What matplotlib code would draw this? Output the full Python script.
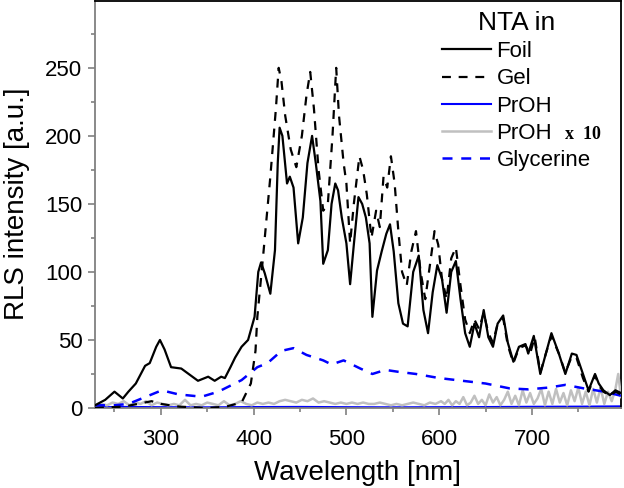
import matplotlib
matplotlib.use("Agg")
import matplotlib.pyplot as plt
from matplotlib.ticker import MultipleLocator

# ---------------- data ----------------
foil_x = [229, 240, 250, 259, 265, 273, 283, 288, 295, 299, 304, 311, 322, 330, 340, 351, 358, 365, 369,
          375, 380, 387, 394, 401, 405, 408, 412, 418, 423, 426, 428, 431, 436, 439, 443, 448, 453, 458,
          463, 467, 472, 475, 480, 484, 488, 491, 495, 500, 504, 508, 513, 517, 521, 525, 528, 533, 538,
          543, 547, 551, 556, 561, 566, 572, 578, 583, 588, 593, 598, 603, 608, 613, 618, 623, 628, 633,
          638, 643, 648, 653, 658, 663, 669, 674, 680, 686, 693, 696, 702, 709, 715, 721, 729, 736, 743,
          748, 755, 761, 768, 772, 777, 784, 790, 796]
foil_y = [2, 6, 12, 7, 12, 18, 31, 33, 45, 50, 43, 30, 29, 25, 20, 23, 20, 23, 22,
          30, 37, 45, 50, 67, 100, 107, 99, 84, 116, 180, 206, 200, 165, 170, 162, 121, 140, 180,
          200, 180, 152, 106, 116, 150, 165, 160, 140, 121, 91, 120, 155, 150, 140, 121, 67, 101, 115,
          128, 135, 115, 77, 62, 60, 100, 112, 72, 55, 85, 105, 95, 70, 100, 108, 80, 55, 45,
          62, 52, 72, 52, 45, 62, 68, 48, 34, 45, 47, 40, 53, 25, 40, 55, 40, 25, 40,
          39, 25, 13, 25, 18, 13, 9.5, 13, 11]

gel_x = [229, 260, 275, 290, 300, 320, 350, 370, 387, 397, 402, 404, 410, 418, 424, 427, 430, 434, 440,
         446, 452, 457, 461, 465, 470, 475, 480, 485, 489, 492, 497, 500, 504, 508, 514, 518, 522, 527,
         532, 536, 540, 544, 548, 552, 556, 560, 565, 570, 575, 580, 585, 590, 595, 599, 603, 608, 613,
         618, 623, 628, 633, 638, 643, 648, 653, 658, 663, 669, 674, 680, 686, 693, 698, 703, 709, 715,
         721, 729, 736, 743, 748, 755, 761, 768, 772, 777, 784, 790, 796]
gel_y = [0, 1, 3, 5, 3, 1, 0, 1, 4, 18, 42, 67, 110, 170, 220, 250, 240, 215, 190,
         177, 200, 230, 247, 220, 175, 145, 150, 200, 250, 215, 180, 165, 121, 150, 185, 175, 157, 125,
         145, 133, 170, 162, 185, 165, 130, 100, 90, 115, 130, 100, 80, 105, 130, 120, 95, 80, 110,
         118, 90, 65, 55, 65, 58, 70, 55, 48, 62, 66, 46, 33, 44, 46, 40, 52, 26, 40,
         53, 40, 26, 38, 37, 22, 12, 24, 17, 12, 9, 12, 10]

proh_x = [229, 260, 300, 350, 400, 450, 500, 550, 600, 650, 700, 750, 796]
proh_y = [0.5, 0.8, 0.6, 0.5, 0.7, 0.8, 0.6, 0.5, 0.6, 0.7, 0.9, 1.0, 1.2]

proh10_x = [229, 236, 242, 248, 254, 260, 266, 272, 278, 284, 290, 296, 302, 308, 314, 320, 326, 332, 338,
            344, 350, 356, 362, 368, 374, 380, 386, 392, 398, 404, 410, 416, 422, 428, 434, 440, 446, 452,
            458, 464, 470, 476, 482, 488, 494, 500, 506, 512, 518, 524, 530, 536, 542, 548, 554, 560, 566,
            572, 578, 584, 590, 596, 602, 606, 610, 614, 618, 622, 626, 630, 634, 638, 642, 646, 650, 654,
            658, 662, 666, 670, 674, 678, 682, 686, 690, 694, 698, 702, 706, 710, 714, 718, 722, 726, 730,
            734, 738, 742, 746, 750, 754, 758, 762, 766, 770, 774, 778, 782, 786, 790, 793, 796]
proh10_y = [2, 3, 2, 4, 3, 5, 2, 4, 3, 5, 2, 4, 3, 2, 3, 2, 6, 2, 3,
            2, 4, 3, 2, 5, 2, 3, 5, 3, 2, 4, 3, 4, 3, 5, 6, 5, 4, 6,
            5, 7, 4, 5, 4, 3, 4, 3, 4, 3, 4, 3, 3, 4, 3, 2, 3, 2, 3,
            4, 3, 2, 4, 3, 5, 3, 6, 2, 5, 3, 8, 2, 4, 9, 3, 6, 2, 10,
            4, 8, 2, 6, 12, 3, 9, 2, 13, 4, 11, 3, 7, 14, 2, 12, 3, 14, 4,
            11, 2, 13, 5, 15, 3, 12, 2, 14, 4, 15, 3, 12, 5, 14, 25, 8]

gly_x = [229, 250, 265, 283, 301, 319, 344, 362, 387, 404, 415, 430, 443, 457, 475, 484, 497, 515, 528,
         542, 556, 575, 600, 625, 650, 676, 696, 718, 736, 756, 778, 793, 796]
gly_y = [2, 2, 3, 8, 13, 10, 8.3, 12, 20.5, 30, 33, 42, 44, 39, 35, 32, 35, 29, 25,
         28, 26.6, 25, 22, 20, 18, 14.4, 13.7, 15, 17, 14.4, 12, 9.5, 9]

yticks = [0, 50, 100, 150, 200, 250]
xticks = [300, 400, 500, 600, 700]

# ---------------- figure ----------------
plt.rcParams['font.family'] = ['Liberation Sans', 'DejaVu Sans']
W, H = 624, 488
fig = plt.figure(figsize=(W / 100, H / 100), dpi=100)
ax = fig.add_axes([95 / W, 80 / H, 526 / W, 407.5 / H])

ax.plot(proh_x, proh_y, color='#0000ff', lw=1.5, zorder=2)
ax.plot(proh10_x, proh10_y, color='#c0c0c0', lw=1.8, zorder=3)
ax.plot(gly_x, gly_y, color='#0000ff', lw=1.8, ls=(0, (4, 3.5)), zorder=4)
ax.plot(gel_x, gel_y, color='black', lw=1.6, ls=(0, (4, 3.5)), zorder=5)
ax.plot(foil_x, foil_y, color='black', lw=1.6, zorder=6)
lines = ax.get_lines()

ax.set_xlim(229, 796)
ax.set_ylim(0, 299.5)
ax.set_xticks(xticks)
ax.set_yticks(yticks)
ax.xaxis.set_minor_locator(MultipleLocator(50))
ax.yaxis.set_minor_locator(MultipleLocator(25))
ax.tick_params(axis='both', which='major', direction='out', length=5, width=1.2, color='#808080',
               labelsize=16)
ax.tick_params(axis='x', which='major', pad=10)
ax.tick_params(axis='y', which='major', pad=4)
ax.tick_params(axis='both', which='minor', direction='out', length=3, width=1.2, color='#808080')
for s in ['left', 'bottom']:
    ax.spines[s].set_color('#808080')
    ax.spines[s].set_linewidth(1.3)
for s in ['top', 'right']:
    ax.spines[s].set_color('black')
    ax.spines[s].set_linewidth(1.3)

ax.set_xlabel('Wavelength [nm]', fontsize=20, labelpad=7)
ax.set_ylabel('RLS intensity [a.u.]', fontsize=20, labelpad=11)

leg_handles = [lines[4], lines[3], lines[0], lines[1], lines[2]]
leg_labels = ['Foil', 'Gel', 'PrOH', 'PrOH', 'Glycerine']
leg = ax.legend(leg_handles, leg_labels, title='NTA in', loc='upper left',
                bbox_to_anchor=(442 / W, 1 - 11 / H), bbox_transform=fig.transFigure,
                frameon=False, fontsize=16, title_fontsize=19, handlelength=2.2,
                handletextpad=0.25, labelspacing=0.28, borderpad=0, borderaxespad=0)
fig.canvas.draw()
# "x 10" suffix for the gray PrOH entry
t = leg.get_texts()[3]
bb = t.get_window_extent()
fig.text((bb.x1 + 13) / W, (bb.y0 + 4.7) / H, 'x  10',
         fontsize=13, fontweight='bold', family='Liberation Serif', va='baseline', ha='left')

fig.savefig('out.png', dpi=100)
